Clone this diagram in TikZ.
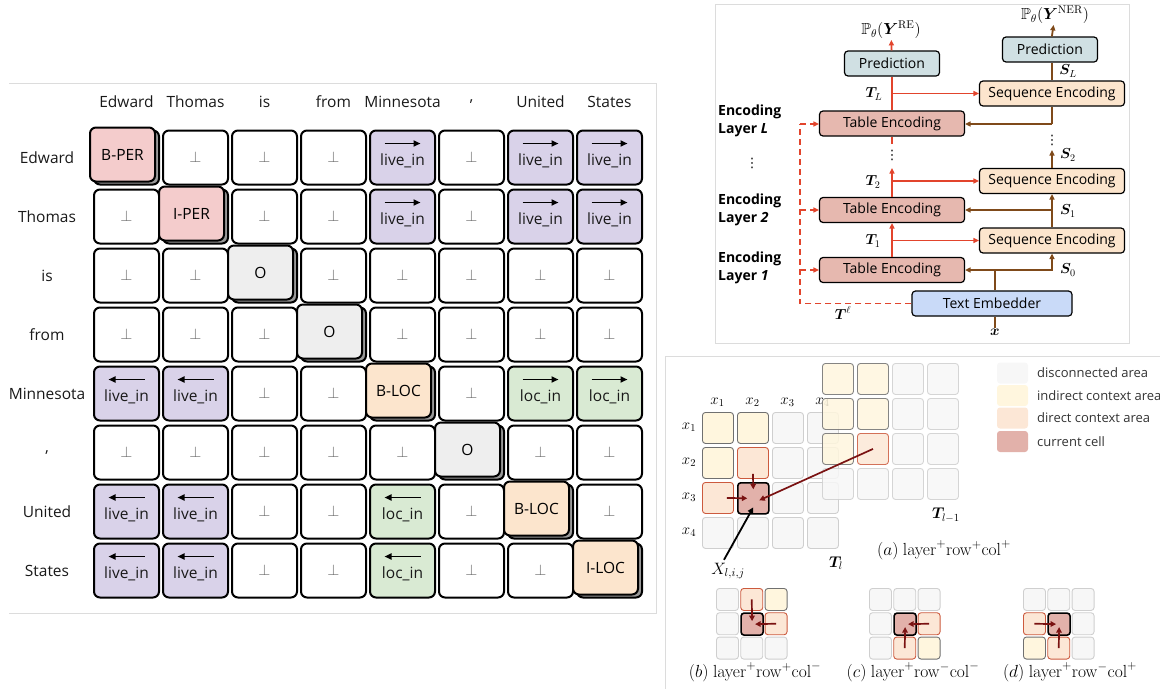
\RequirePackage{fix-cm}
\documentclass[tikz,border=0pt]{standalone}
\usepackage{amsmath,amssymb,bm}
\usepackage[no-math]{fontspec}
\setmainfont{Open Sans}
\newfontfamily\dejavu{DejaVu Sans}
\usetikzlibrary{arrows.meta,calc}

\definecolor{pinkc}{HTML}{F4CCCC}
\definecolor{purpc}{HTML}{D9D2E9}
\definecolor{greenc}{HTML}{D9EAD3}
\definecolor{peachc}{HTML}{FCE5CD}
\definecolor{ogray}{HTML}{EEEEEE}
\definecolor{shadc}{HTML}{9A9A9A}
\definecolor{predc}{HTML}{D0E0E3}
\definecolor{tabc}{HTML}{E6B8AF}
\definecolor{embc}{HTML}{C9DAF8}
\definecolor{brownc}{HTML}{7F4A1A}
\definecolor{redc}{HTML}{E2442C}
\definecolor{darkredc}{HTML}{7A1212}
\definecolor{framec}{HTML}{DCDCDC}
\definecolor{discf}{HTML}{F7F7F7}
\definecolor{discd}{HTML}{CFCFCF}
\definecolor{indf}{HTML}{FFF6DE}
\definecolor{indd}{HTML}{707070}
\definecolor{dirf}{HTML}{FCE7D6}
\definecolor{dird}{HTML}{CC5A3E}
\definecolor{curf}{HTML}{E2B1AA}

\newcommand\perpsym{\textcolor{black!60}{$\perp$}}
\newcommand\tc[3]{\pgfmathsetmacro\tcx{126.5+69*(#2-1)}\pgfmathsetmacro\tcy{157.5+59*(#1-1)}\csname tk#3\endcsname{#1}{#2}}
\newcommand\tkn[2]{\node[tcell,fill=white] (c#1#2) at (\tcx,\tcy) {\perpsym};}
\newcommand\tkd[2]{}
\newcommand\tkarr[5]{%
  \node[tcell,fill=#3] (c#1#2) at (\tcx,\tcy) {};
  \node[lab] (t#1#2) at ($(c#1#2.center)+(0,3)$) {#4};
  \ifnum#5=1 \draw[tarrow] ($(c#1#2.center)+(-18,-14)$) -- ($(c#1#2.center)+(18,-14)$);
  \else \draw[tarrow] ($(c#1#2.center)+(18,-14)$) -- ($(c#1#2.center)+(-18,-14)$); \fi}
\newcommand\tklr[2]{\tkarr{#1}{#2}{purpc}{live\_in}{1}}
\newcommand\tkll[2]{\tkarr{#1}{#2}{purpc}{live\_in}{0}}
\newcommand\tkcr[2]{\tkarr{#1}{#2}{greenc}{loc\_in}{1}}
\newcommand\tkcl[2]{\tkarr{#1}{#2}{greenc}{loc\_in}{0}}
\newcommand\tkraise[4]{\pgfmathsetmacro\tcx{126.5+69*(#2-1)}\pgfmathsetmacro\tcy{157.5+59*(#1-1)}%
  \node[tcell,fill=shadc] (s#1#2) at (\tcx,\tcy) {};
  \node[tcell,fill=#3] (c#1#2) at ($(s#1#2.center)+(-4,-3)$) {#4};}

\newcommand\mkgrid[7]{% name, ox, oy, pitch, size, rows, extra
  \foreach \rowl [count=\i] in {#6} {
    \foreach \k [count=\j] in \rowl {
      \edef\tmpnode{\noexpand\node[gcell,\k,minimum size=#5,anchor=north west,#7] (#1-\i-\j) at ({#2+#4*(\j-1)},{#3+#4*(\i-1)}) {};}
      \tmpnode
    }
  }
}

\begin{document}
\begin{tikzpicture}[x=1pt,y=-1pt,
  lab/.style={font=\fontsize{15.5}{18}\selectfont, text=black!90, inner sep=1pt},
  tcell/.style={rectangle, draw=black, line width=2pt, rounded corners=6pt, minimum width=65, minimum height=54, inner sep=0pt, font=\fontsize{15.5}{18}\selectfont},
  tarrow/.style={line width=1.8pt, -{Stealth[length=7pt,width=6pt,inset=0pt]}},
  box/.style={draw=black, line width=1.2pt, rounded corners=3.5pt, minimum height=25, inner sep=0pt, font=\fontsize{14}{16}\selectfont},
  rline/.style={draw=redc, line width=1.8pt},
  rarr/.style={rline, -{Stealth[length=5.5pt,width=5pt,inset=0pt]}},
  bline/.style={draw=brownc, line width=1.8pt},
  barr/.style={bline, -{Stealth[length=5.5pt,width=5pt,inset=0pt]}},
  rdash/.style={rline, dash pattern=on 6pt off 4pt},
  rdasharr/.style={rdash, -{Stealth[length=5.5pt,width=5pt,inset=0pt]}},
  mlab/.style={font=\fontsize{14.5}{16}\selectfont, inner sep=1pt},
  plab/.style={font=\fontsize{16}{18}\selectfont, inner sep=1pt},
  dots/.style={font=\fontsize{13}{14}\selectfont\dejavu, inner sep=0pt},
  enc/.style={font=\fontsize{14}{18}\selectfont\bfseries, align=left, inner sep=0pt},
  gcell/.style={rectangle, rounded corners=3pt, inner sep=0pt},
  gdisc/.style={fill=discf, draw=discd, line width=0.9pt},
  gind/.style={fill=indf, draw=indd, line width=0.9pt},
  gdir/.style={fill=dirf, draw=dird, line width=0.9pt},
  gcur/.style={fill=curf, draw=black, line width=1.6pt},
  darr/.style={draw=darkredc, line width=1.7pt, -{Stealth[length=5.5pt,width=5.5pt,inset=0pt]}},
  blkarr/.style={draw=black, line width=1.8pt, -{Stealth[length=6pt,width=6pt,inset=0pt]}},
  capt/.style={font=\fontsize{17.5}{19}\selectfont, inner sep=1pt},
  legsq/.style={rectangle, rounded corners=3pt, minimum width=31, minimum height=21, inner sep=0pt},
  legt/.style={font=\fontsize{13}{15}\selectfont, text=black!80, inner sep=0pt}
]
\useasboundingbox (0,0) rectangle (1160,689);

% panel frames
\draw[framec, line width=0.8pt] (9,83) -- (656,83) -- (656,613) -- (9,613);
\draw[framec, line width=0.8pt] (715,4) rectangle (1129,343);
\draw[framec, line width=0.8pt] (1160,356) -- (665,356) -- (665,689);

% ---------- left table ----------
\foreach \w [count=\c] in {Edward,Thomas,is,from,Minnesota,{,},United,States} {
  \node[lab] (h\c) at ({126.5+69*(\c-1)},102) {\w};
  \node[lab] (r\c) at (47,{157.5+59*(\c-1)}) {\w};
}
\foreach \r/\lst in {1/{d,n,n,n,lr,n,lr,lr}, 2/{n,d,n,n,lr,n,lr,lr}, 3/{n,n,d,n,n,n,n,n}, 4/{n,n,n,d,n,n,n,n},
  5/{ll,ll,n,n,d,n,cr,cr}, 6/{n,n,n,n,n,d,n,n}, 7/{ll,ll,n,n,cl,n,d,n}, 8/{ll,ll,n,n,cl,n,n,d}} {
  \foreach \k [count=\c] in \lst {\tc{\r}{\c}{\k}}
}
\tkraise{1}{1}{pinkc}{B-PER}
\tkraise{2}{2}{pinkc}{I-PER}
\tkraise{3}{3}{ogray}{O}
\tkraise{4}{4}{ogray}{O}
\tkraise{5}{5}{peachc}{B-LOC}
\tkraise{6}{6}{ogray}{O}
\tkraise{7}{7}{peachc}{B-LOC}
\tkraise{8}{8}{peachc}{I-LOC}

% ---------- right top: architecture ----------
\node[box,fill=predc,minimum width=95] (predRE) at (892,63.5) {Prediction};
\node[box,fill=predc,minimum width=95] (predNER) at (1050,49.5) {Prediction};
\node[box,fill=peachc,minimum width=145] (seqL) at (1052,93.5) {Sequence Encoding};
\node[box,fill=tabc,minimum width=145] (tabL) at (892,123.5) {Table Encoding};
\node[box,fill=peachc,minimum width=145] (seq2) at (1052,181) {Sequence Encoding};
\node[box,fill=tabc,minimum width=145] (tab2) at (892,210) {Table Encoding};
\node[box,fill=peachc,minimum width=145] (seq1) at (1052,240.5) {Sequence Encoding};
\node[box,fill=tabc,minimum width=145] (tab1) at (892,270) {Table Encoding};
\node[box,fill=embc,minimum width=160] (emb) at (992,303.5) {Text Embedder};

\node[plab] (yre) at (891,30) {$\mathbb{P}_\theta(\bm{Y}^{\mathrm{RE}})$};
\node[plab] (yner) at (1055,15) {$\mathbb{P}_\theta(\bm{Y}^{\mathrm{NER}})$};
\node[mlab] (TL) at (874,94) {$\bm{T}_L$};
\node[mlab] (T2) at (873,182) {$\bm{T}_2$};
\node[mlab] (T1) at (873,241) {$\bm{T}_1$};
\node[mlab] (SL) at (1068,71) {$\bm{S}_L$};
\node[mlab] (S2) at (1068,155) {$\bm{S}_2$};
\node[mlab] (S1) at (1068,211) {$\bm{S}_1$};
\node[mlab] (S0) at (1068,270) {$\bm{S}_0$};
\node[mlab] (Tell) at (843,313) {$\bm{T}^{\ell}$};
\node[mlab] (xin) at (995,332) {$\bm{x}$};

\node[enc,anchor=west] (encL) at (718,121) {Encoding\\Layer \textit{L}};
\node[enc,anchor=west] (enc2) at (718,210) {Encoding\\Layer \textit{2}};
\node[enc,anchor=west] (enc1) at (718,268) {Encoding\\Layer \textit{1}};
\node[dots] (vdLeft) at (752,163) {⋮};
\node[dots] (vdR) at (892,155) {⋮};
\node[dots] (vdB) at (1052,140) {⋮};

% red connectors
\draw[rarr] (predRE) -- (yre);
\draw[rline] (tabL.north) -- (predRE.south);
\coordinate (tabLbot) at (892,144);
\draw[rline] (tabLbot) -- (tabL.south);
\draw[rarr] (tabL.north |- seqL.west) -- (seqL.west);
\coordinate (tab2top) at (892,168);
\draw[rarr] (tab2.north) -- (tab2top);
\draw[rarr] (tab2.north |- seq2.west) -- (seq2.west);
\draw[rarr] (tab1.north) -- (tab2.south);
\draw[rarr] (tab1.north |- seq1.west) -- (seq1.west);

% brown connectors
\draw[barr] (predNER) -- (yner);
\draw[bline] (seqL.north) -- (seqL.north |- predNER.south);
\coordinate (jL) at (1052,124);
\draw[bline] (jL) -- (seqL.south);
\draw[barr] (jL) -- (jL -| tabL.east);
\coordinate (s2top) at (1052,150);
\draw[barr] (seq2.north) -- (s2top);
\draw[barr] (seq1.north) -- (seq2.south);
\draw[barr] (seq1.north |- tab2.east) -- (tab2.east);
\coordinate (j0) at (995,270);
\draw[bline] (emb.north -| j0) -- (j0);
\draw[barr] (j0) -- (tab1.east);
\draw[barr] (j0) -| (seq1.south);
\draw[bline] (emb.south -| xin.north) -- (xin.north);

% dashed red
\coordinate (dtop) at (800,124);
\draw[rdash] (emb.west) -| (dtop);
\draw[rdasharr] (dtop) -- (dtop -| tabL.west);
\draw[rdasharr] (dtop |- tab2.west) -- (tab2.west);
\draw[rdasharr] (dtop |- tab1.west) -- (tab1.west);

% ---------- right bottom (a) ----------
\mkgrid{A}{702}{412}{35}{31}{{gind,gind,gdisc,gdisc},{gind,gdir,gdisc,gdisc},{gdir,gcur,gdisc,gdisc},{gdisc,gdisc,gdisc,gdisc}}{}
\foreach \n in {1,2,3,4} {
  \node[mlab,font=\fontsize{15}{16}\selectfont] (cx\n) at ({717.5+35*(\n-1)},402) {$x_{\n}$};
  \node[mlab,font=\fontsize{15}{16}\selectfont] (rx\n) at (689,{427.5+35*(\n-1)}) {$x_{\n}$};
}
\mkgrid{B}{822}{363}{35}{31}{{gind,gind,gdisc,gdisc},{gind,gind,gdisc,gdisc},{gind,gdir,gdisc,gdisc},{gdisc,gdisc,gdisc,gdisc}}{opacity=0.85}

\node[mlab,font=\fontsize{15.5}{16}\selectfont] (Tl) at (836,563) {$\bm{T}_l$};
\node[mlab,font=\fontsize{15.5}{16}\selectfont] (Tl1) at (946,515) {$\bm{T}_{l-1}$};
\node[mlab,font=\fontsize{16.5}{18}\selectfont] (X) at (728,571) {$X_{l,i,j}$};
\node[capt] (capa) at (944,550) {$(a)\ \mathrm{layer}^{+}\mathrm{row}^{+}\mathrm{col}^{+}$};

\draw[darr] ($(A-2-2.center)+(0,11)$) -- ($(A-3-2.center)+(0,-9)$);
\draw[darr] ($(A-3-1.center)+(9,0)$) -- ($(A-3-2.center)+(-6,0)$);
\draw[darr] (B-3-2.center) -- ($(A-3-2.center)+(6,2)$);
\draw[blkarr] ($(X.north)+(-4,-2)$) -- ($(A-3-2.center)+(0,9)$);

% legend
\foreach \col/\txt/\yy [count=\n] in {discf/disconnected area/373, indf/indirect context area/395.5, dirf/direct context area/418, curf/current cell/441.5} {
  \node[legsq,fill=\col] (lg\n) at (1012.5,\yy) {};
  \node[legt,anchor=west] (lt\n) at (1037,\yy) {\txt};
}

% ---------- small grids ----------
\mkgrid{b}{716}{588}{24.3}{22}{{gdisc,gdir,gind},{gdisc,gcur,gdir},{gdisc,gdisc,gdisc}}{}
\mkgrid{c}{869}{588}{24.3}{22}{{gdisc,gdisc,gdisc},{gdisc,gcur,gdir},{gdisc,gdir,gind}}{}
\mkgrid{d}{1023}{588}{24.3}{22}{{gdisc,gdisc,gdisc},{gdir,gcur,gdisc},{gind,gdir,gdisc}}{}

\draw[darr] (b-1-2.center) -- ($(b-2-2.center)+(0,-3)$);
\draw[darr] (b-2-3.center) -- ($(b-2-2.center)+(3,0)$);
\draw[darr] (c-2-3.center) -- ($(c-2-2.center)+(3,0)$);
\draw[darr] (c-3-2.center) -- ($(c-2-2.center)+(0,3)$);
\draw[darr] (d-2-1.center) -- ($(d-2-2.center)+(-3,0)$);
\draw[darr] (d-3-2.center) -- ($(d-2-2.center)+(0,3)$);

\node[capt] (capb) at (755,672) {$(b)\ \mathrm{layer}^{+}\mathrm{row}^{+}\mathrm{col}^{-}$};
\node[capt] (capc) at (913,672) {$(c)\ \mathrm{layer}^{+}\mathrm{row}^{-}\mathrm{col}^{-}$};
\node[capt] (capd) at (1070,672) {$(d)\ \mathrm{layer}^{+}\mathrm{row}^{-}\mathrm{col}^{+}$};
\end{tikzpicture}
\end{document}
